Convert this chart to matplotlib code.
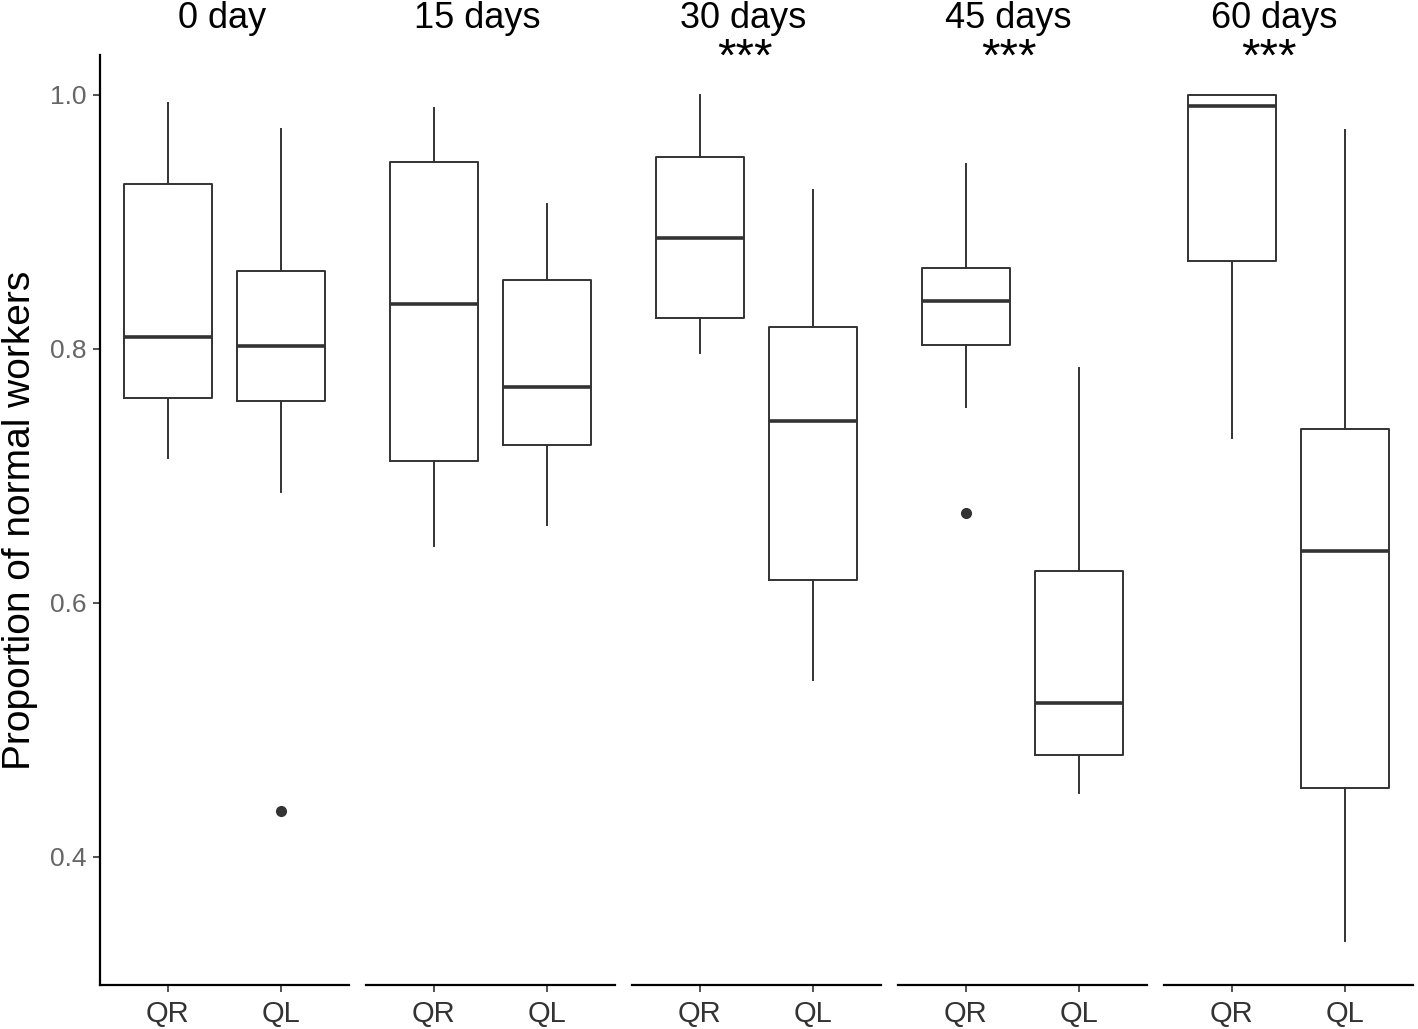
import matplotlib.pyplot as plt

plt.rcParams['font.family'] = ['Liberation Sans', 'DejaVu Sans']

# Значения
days = ['0 day', '15 days', '30 days', '45 days', '60 days']
signif = ['', '', '***', '***', '***']
groups = ['QR', 'QL']

# (нижний ус, Q1, медиана, Q3, верхний ус)
qr_stats = [
    (0.714, 0.761, 0.809, 0.930, 0.994),
    (0.645, 0.712, 0.835, 0.947, 0.990),
    (0.797, 0.824, 0.887, 0.951, 1.000),
    (0.754, 0.803, 0.838, 0.864, 0.946),
    (0.730, 0.869, 0.991, 1.000, 1.000),
]
ql_stats = [
    (0.687, 0.759, 0.802, 0.861, 0.973),
    (0.661, 0.724, 0.770, 0.854, 0.914),
    (0.539, 0.618, 0.743, 0.817, 0.925),
    (0.450, 0.480, 0.521, 0.625, 0.785),
    (0.334, 0.454, 0.641, 0.737, 0.972),
]
qr_outliers = [[], [], [], [0.671], []]
ql_outliers = [[0.436], [], [], [], []]

# сдвиг подписей по горизонтали (пиксели), как на исходнике
title_dx = [-2, -13, -13, -14, -14]
star_dx = [0, 0, -12, -14, -20]


def make_stats(s, fl):
    return dict(whislo=s[0], q1=s[1], med=s[2], q3=s[3], whishi=s[4], fliers=fl)


fig, axes = plt.subplots(1, 5, sharey=True, figsize=(14.18, 10.29), dpi=100)
fig.subplots_adjust(left=0.0705, right=0.9965, bottom=0.0428, top=0.9466, wspace=0.068)

line_col = '#333333'
for i, ax in enumerate(axes):
    stats = [make_stats(qr_stats[i], qr_outliers[i]), make_stats(ql_stats[i], ql_outliers[i])]
    ax.bxp(stats, positions=[1, 2], widths=0.78, showcaps=False,
           boxprops=dict(color=line_col, linewidth=1.4),
           whiskerprops=dict(color=line_col, linewidth=1.4),
           medianprops=dict(color=line_col, linewidth=2.6),
           flierprops=dict(marker='o', markerfacecolor=line_col, markeredgecolor=line_col,
                           markersize=7))
    ax.set_xlim(0.4, 2.6)
    ax.set_ylim(0.299, 1.0315)
    ax.set_xticks([1, 2])
    ax.set_xticklabels(groups)
    for side in ['top', 'right']:
        ax.spines[side].set_visible(False)
    ax.spines['bottom'].set_linewidth(1.6)
    ax.spines['left'].set_linewidth(1.6)
    ax.tick_params(axis='x', labelsize=21, colors='#333333', length=5, width=1.2, pad=6)
    ax.tick_params(axis='y', labelsize=19, labelcolor='#666666', color='#333333',
                   length=5, width=1.2, pad=5)
    if i > 0:
        ax.spines['left'].set_visible(False)
        ax.tick_params(axis='y', left=False, labelleft=False)
    # подпись панели и значимость
    ax.annotate(days[i], xy=(0.5, 1), xycoords='axes fraction', xytext=(title_dx[i], 36),
                textcoords='offset pixels', ha='center', va='center', fontsize=26)
    if signif[i]:
        ax.annotate(signif[i], xy=(0.5, 1), xycoords='axes fraction', xytext=(star_dx[i], -4),
                    textcoords='offset pixels', ha='center', va='center', fontsize=34)

axes[0].set_yticks([0.4, 0.6, 0.8, 1.0])
axes[0].set_ylabel('Proportion of normal workers', fontsize=28, labelpad=8)

plt.savefig('out.png', dpi=100)
